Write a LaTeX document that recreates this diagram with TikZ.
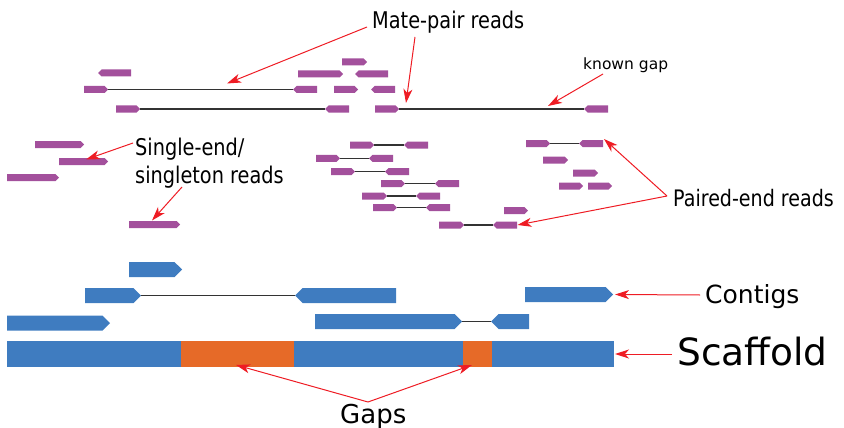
\documentclass[tikz,border=0pt]{standalone}
\usepackage{fontspec}
\setmainfont{DejaVu Sans}
\newfontfamily\condfont[FakeStretch=0.84]{DejaVu Sans}
\usetikzlibrary{shapes.symbols,arrows.meta}
\definecolor{readc}{HTML}{A3509C}
\definecolor{contc}{HTML}{3F7CC0}
\definecolor{gapc}{HTML}{E66A28}
\definecolor{linkc}{HTML}{333333}
\definecolor{arrc}{HTML}{EE1C24}
\tikzset{
  rd/.style={shape=signal, fill=readc, draw=none, inner sep=0pt, outer sep=0pt, minimum height=7pt, signal pointer angle=90, anchor=west},
  rR/.style={rd, signal to=east},
  rL/.style={rd, signal to=west},
  ct/.style={shape=signal, fill=contc, draw=none, inner sep=0pt, outer sep=0pt, minimum height=15pt, signal pointer angle=90, anchor=west},
  cR/.style={ct, signal to=east},
  cL/.style={ct, signal to=west},
  sblock/.style={rectangle, draw=none, inner sep=0pt, outer sep=0pt, minimum height=26pt},
  link/.style={draw=linkc, line width=1.2pt},
  callout/.style={draw=arrc, line width=1pt, -{Stealth[length=14pt,width=9pt,inset=4pt]}},
  lbl/.style={inner sep=0pt, anchor=base west, text=black},
}
\newcommand\seg[5]{\node[#5, minimum width={(#3-#2)*1pt}] (#1) at (#2,#4) {};}
\begin{document}
\begin{tikzpicture}[x=1pt,y=-1pt]
\useasboundingbox (0,0) rectangle (844,428);
% ---- mate-pair reads
\seg{m1}{98}{131}{73}{rL}
\seg{m2a}{84}{108}{89.5}{rR}
\seg{m2b}{293}{317}{89.5}{rL}
\seg{m3}{342}{367}{62}{rR}
\seg{m4}{298}{343}{74}{rR}
\seg{m5}{355}{388}{74}{rL}
\seg{m6}{334}{358}{89.5}{rR}
\seg{m7}{371}{395}{89.5}{rL}
\seg{m8a}{116}{140}{109}{rR}
\seg{m8b}{325}{349}{109}{rL}
\seg{m9a}{375}{399}{109}{rR}
\seg{m9b}{584}{608}{109}{rL}
\draw[link] (m2a.east) -- (m2b.west);
\draw[link] (m8a.east) -- (m8b.west);
\draw[link] (m9a.east) -- (m9b.west);
% ---- single reads
\seg{s1}{35}{84}{144.5}{rR}
\seg{s2}{59}{108}{161.5}{rR}
\seg{s3}{7}{59}{177.5}{rR}
\seg{s4}{129}{180}{224.5}{rR}
% ---- paired-end reads (middle)
\seg{p1a}{350}{374}{145}{rR}   \seg{p1b}{404}{428}{145}{rL}
\seg{p2a}{316}{340}{158.3}{rR} \seg{p2b}{369}{393}{158.3}{rL}
\seg{p3a}{331}{355}{171.7}{rR} \seg{p3b}{385}{409}{171.7}{rL}
\seg{p4a}{381}{405}{183.7}{rR} \seg{p4b}{435}{459}{183.7}{rL}
\seg{p5a}{362}{387}{196}{rR}   \seg{p5b}{416}{440}{196}{rL}
\seg{p6a}{373}{397}{207.7}{rR} \seg{p6b}{426}{450}{207.7}{rL}
\seg{p7a}{439}{464}{225}{rR}   \seg{p7b}{493}{517}{225}{rL}
\seg{p8}{504}{528}{210.7}{rR}
\foreach \i in {1,...,7}{\draw[link] (p\i a.east) -- (p\i b.west);}
% ---- paired-end reads (right)
\seg{q1a}{526}{550}{143.5}{rR} \seg{q1b}{579}{603}{143.5}{rL}
\draw[link] (q1a.east) -- (q1b.west);
\seg{q2}{543}{568}{160}{rR}
\seg{q3}{573}{598}{173}{rR}
\seg{q4}{559}{583}{186}{rR}
\seg{q5}{588}{612}{186}{rR}
% ---- contigs
\seg{c1}{129}{182}{269.5}{cR}
\seg{c2}{85}{141}{295.5}{cR}
\seg{c3}{295}{396}{295.5}{cL}
\seg{c4}{7}{110}{323}{cR}
\seg{c5}{315}{462}{321.5}{cR}
\seg{c6}{491}{529}{321.5}{cL}
\seg{c7}{525}{613}{294.5}{cR}
\draw[link] (c2.east) -- (c3.west);
\draw[link] (c5.east) -- (c6.west);
% ---- scaffold
\node[sblock, fill=contc, minimum width=174pt] (sc1) at (94,354) {};
\node[sblock, fill=gapc, minimum width=113pt] (g1) at (237.5,354) {};
\node[sblock, fill=contc, minimum width=169pt] (sc2) at (378.5,354) {};
\node[sblock, fill=gapc, minimum width=29pt] (g2) at (477.5,354) {};
\node[sblock, fill=contc, minimum width=122pt] (sc3) at (553,354) {};
% ---- labels
\node[lbl, font=\condfont\fontsize{23}{27}\selectfont] (tmate) at (372,28.3) {Mate-pair reads};
\node[lbl, font=\fontsize{15.5}{18}\selectfont] (tgap) at (583,69.3) {known gap};
\node[lbl, font=\condfont\fontsize{23}{27}\selectfont] (tsingle1) at (135,155) {Single-end/};
\node[lbl, font=\condfont\fontsize{23}{27}\selectfont] (tsingle2) at (135,183.3) {singleton reads};
\node[lbl, font=\condfont\fontsize{22.7}{27}\selectfont] (tpaired) at (673,206.7) {Paired-end reads};
\node[lbl, font=\fontsize{25}{30}\selectfont] (tcontig) at (705,303.3) {Contigs};
\node[lbl, font=\fontsize{37.5}{44}\selectfont] (tscaf) at (677,365.7) {Scaffold};
\node[lbl, font=\fontsize{26}{31}\selectfont] (tgaps) at (340,423) {Gaps};
% ---- callout anchors
\coordinate (aM1) at (367,27);   \coordinate (tM1) at (227,83.5);
\coordinate (aM2) at (415,37);   \coordinate (tM2) at (406,103);
\coordinate (aK) at (603,74);    \coordinate (tK) at (548,106);
\coordinate (aS1) at (133,143);  \coordinate (tS1) at (86,159.5);
\coordinate (aS2) at (182,187);  \coordinate (tS2) at (152,220.5);
\coordinate (aP) at (667,196);
\coordinate (aC) at (700,295);
\coordinate (aSc) at (672,354);
\coordinate (aG) at (368,402);
\coordinate (tG1) at (236,365);  \coordinate (tG2) at (472,365);
% ---- callouts
\draw[callout] (aM1) -- (tM1);
\draw[callout] (aM2) -- (tM2);
\draw[callout] (aK) -- (tK);
\draw[callout] (aS1) -- (tS1);
\draw[callout] (aS2) -- (tS2);
\draw[callout] (aP) -- ([shift={(1,-1)}]q1b.north east);
\draw[callout] (aP) -- ([xshift=0.5pt]p7b.east);
\draw[callout] (aC) -- ([xshift=2pt]c7.east);
\draw[callout] (aSc) -- ([xshift=1pt]sc3.east);
\draw[callout] (aG) -- (tG1);
\draw[callout] (aG) -- (tG2);
\end{tikzpicture}
\end{document}
